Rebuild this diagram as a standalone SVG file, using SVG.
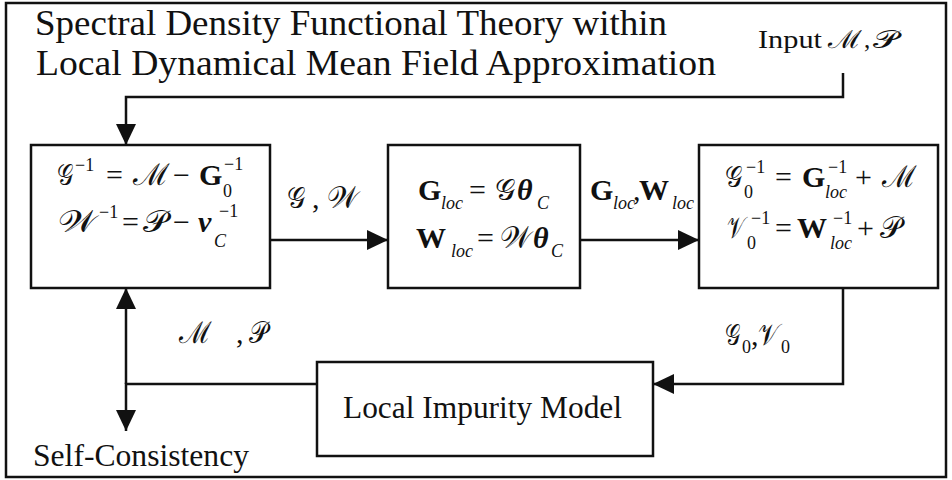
<svg xmlns="http://www.w3.org/2000/svg" width="952" height="480" viewBox="0 0 952 480">
<style>
  text { font-family: "Liberation Serif", "DejaVu Serif", serif; fill: #111; }
  .t { font-size: 35px; }
  .lbl { font-size: 31px; }
  .m { font-size: 30px; }
  .c { font-size: 30px; font-weight: normal; }
  .b { font-size: 30px; font-weight: bold; }
  .bi { font-size: 30px; font-weight: bold; font-style: italic; }
  .s { font-size: 18px; }
  .si { font-size: 18px; font-style: italic; }
  .box { fill: #fff; stroke: #111; stroke-width: 2.5; }
  .ln { fill: none; stroke: #111; stroke-width: 2.5; }
</style>
<defs>
  <marker id="ah" markerUnits="userSpaceOnUse" markerWidth="22" markerHeight="22" viewBox="0 0 22 22" refX="21" refY="11" orient="auto">
    <path d="M0,1 L21,11 L0,21 Z" fill="#111"/>
  </marker>
</defs>
<rect x="6" y="3" width="940" height="474" fill="#fff" stroke="#111" stroke-width="2.5"/>

<g id="title">
  <text class="t" x="35" y="35" textLength="632" lengthAdjust="spacingAndGlyphs">Spectral Density Functional Theory within</text>
  <text class="t" x="36" y="75" textLength="680" lengthAdjust="spacingAndGlyphs">Local Dynamical Mean Field Approximation</text>
</g>
<g id="input">
  <text style="font-size:25px" x="758" y="48" textLength="64" lengthAdjust="spacingAndGlyphs">Input</text>
  <text style="font-size:25px" x="828" y="48" textLength="34" lengthAdjust="spacingAndGlyphs">ℳ</text>
  <text style="font-size:25px" x="864" y="48">,</text>
  <text style="font-size:25px" x="873" y="48" textLength="25" lengthAdjust="spacingAndGlyphs">𝒫</text>
</g>

<g id="box1">
  <rect class="box" x="31" y="145" width="239" height="143"/>
  <text class="c" x="57" y="185" textLength="16" lengthAdjust="spacingAndGlyphs">𝒢</text>
  <text class="s" x="75" y="171">−1</text>
  <text class="m" x="106" y="185">=</text>
  <text class="c" x="133" y="185" textLength="37" lengthAdjust="spacingAndGlyphs">ℳ</text>
  <text class="m" x="173" y="185">−</text>
  <text class="b" x="199" y="185">G</text>
  <text class="s" x="224" y="170">−1</text>
  <text class="s" x="223" y="197">0</text>
  <text class="c" x="58" y="232" textLength="38" lengthAdjust="spacingAndGlyphs">𝒲</text>
  <text class="s" x="99" y="218">−1</text>
  <text class="m" x="122" y="232">=</text>
  <text class="c" x="143" y="232" textLength="25" lengthAdjust="spacingAndGlyphs">𝒫</text>
  <text class="m" x="173" y="232">−</text>
  <text class="bi" x="198" y="232">v</text>
  <text class="s" x="219" y="217">−1</text>
  <text class="si" x="214" y="247">C</text>
</g>

<g id="box2">
  <rect class="box" x="388" y="145" width="192" height="143"/>
  <text class="b" x="418" y="200">G</text>
  <text class="si" x="441" y="209">loc</text>
  <text class="m" x="469" y="200">=</text>
  <text class="c" x="495" y="200" textLength="20" lengthAdjust="spacingAndGlyphs">𝒢</text>
  <text class="bi" x="517" y="200">θ</text>
  <text class="si" x="537" y="209">C</text>
  <text class="b" x="416" y="248">W</text>
  <text class="si" x="451" y="257">loc</text>
  <text class="m" x="477" y="248">=</text>
  <text class="c" x="500" y="248" textLength="31" lengthAdjust="spacingAndGlyphs">𝒲</text>
  <text class="bi" x="533" y="248">θ</text>
  <text class="si" x="551" y="257">C</text>
</g>

<g id="box3">
  <rect class="box" x="699" y="145" width="239" height="143"/>
  <text class="c" x="725" y="187" textLength="17" lengthAdjust="spacingAndGlyphs">𝒢</text>
  <text class="s" x="746" y="173">−1</text>
  <text class="s" x="744" y="198">0</text>
  <text class="m" x="775" y="187">=</text>
  <text class="b" x="802" y="187">G</text>
  <text class="s" x="828" y="173">−1</text>
  <text class="si" x="825" y="198">loc</text>
  <text class="m" x="855" y="187">+</text>
  <text class="c" x="882" y="187" textLength="35" lengthAdjust="spacingAndGlyphs">ℳ</text>
  <text class="c" x="727" y="238" textLength="18" lengthAdjust="spacingAndGlyphs">𝒱</text>
  <text class="s" x="751" y="224">−1</text>
  <text class="s" x="747" y="249">0</text>
  <text class="m" x="775" y="238">=</text>
  <text class="b" x="797" y="238">W</text>
  <text class="s" x="833" y="224">−1</text>
  <text class="si" x="830" y="249">loc</text>
  <text class="m" x="857" y="238">+</text>
  <text class="c" x="880" y="238" textLength="22" lengthAdjust="spacingAndGlyphs">𝒫</text>
</g>

<g id="box4">
  <rect class="box" x="317" y="362" width="336" height="94"/>
  <text class="lbl" x="343" y="418" textLength="279" lengthAdjust="spacingAndGlyphs">Local Impurity Model</text>
</g>

<g id="selfconsistency">
  <text class="lbl" x="33" y="466" textLength="216" lengthAdjust="spacingAndGlyphs">Self-Consistency</text>
</g>

<g id="connectors">
  <polyline class="ln" points="843,73 843,97 126,97 126,145" marker-end="url(#ah)"/>
  <line class="ln" x1="270" y1="240" x2="388" y2="240" marker-end="url(#ah)"/>
  <line class="ln" x1="580" y1="240" x2="699" y2="240" marker-end="url(#ah)"/>
  <polyline class="ln" points="843,288 843,384 653,384" marker-end="url(#ah)"/>
  <polyline class="ln" points="317,384 126,384 126,431" marker-end="url(#ah)"/>
  <line class="ln" x1="126" y1="384" x2="126" y2="288" marker-end="url(#ah)"/>
</g>

<g id="labels">
  <text class="c" x="287" y="208" textLength="18" lengthAdjust="spacingAndGlyphs">𝒢</text>
  <text class="m" x="312" y="208">,</text>
  <text class="c" x="327" y="208" textLength="31" lengthAdjust="spacingAndGlyphs">𝒲</text>
  <text class="b" x="590" y="200">G</text>
  <text class="si" x="613" y="209">loc</text>
  <text class="m" x="633" y="200">,</text>
  <text class="b" x="639" y="200">W</text>
  <text class="si" x="672" y="209">loc</text>
  <text class="c" x="179" y="343" textLength="33" lengthAdjust="spacingAndGlyphs">ℳ</text>
  <text class="m" x="236" y="343">,</text>
  <text class="c" x="249" y="343" textLength="19" lengthAdjust="spacingAndGlyphs">𝒫</text>
  <text class="c" x="725" y="345" textLength="15" lengthAdjust="spacingAndGlyphs">𝒢</text>
  <text class="s" x="742" y="353">0</text>
  <text class="m" x="751" y="345">,</text>
  <text class="c" x="758" y="345" textLength="21" lengthAdjust="spacingAndGlyphs">𝒱</text>
  <text class="s" x="781" y="353">0</text>
</g>
</svg>
